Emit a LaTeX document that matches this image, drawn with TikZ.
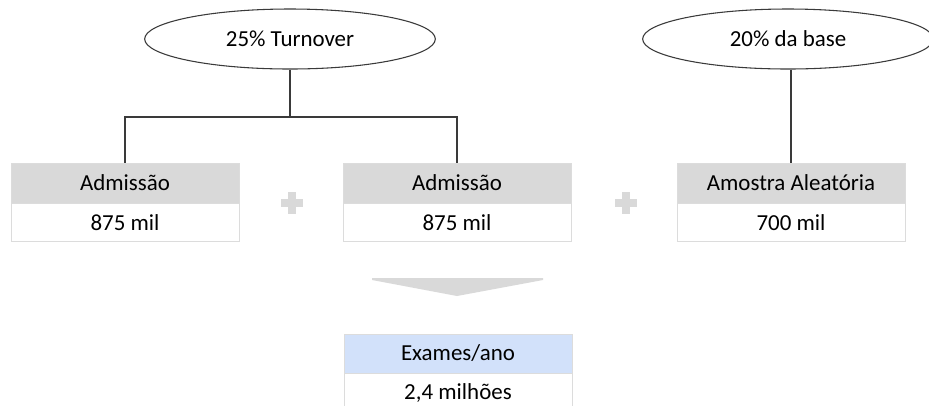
\documentclass[tikz,border=0pt]{standalone}
\usepackage{fontspec}
\setmainfont{Carlito}
\usetikzlibrary{shapes.geometric}
\definecolor{hdrgray}{HTML}{D9D9D9}
\definecolor{hdrblue}{HTML}{D2E1FA}
\definecolor{edge}{HTML}{DCDCDC}
\definecolor{linec}{HTML}{3A3A3A}
\tikzset{
  oval/.style={ellipse, draw=linec, line width=0.8pt, minimum width=218pt, minimum height=45pt, inner sep=0pt, font=\fontsize{17.2}{19}\selectfont},
  hdr/.style={rectangle, draw=edge, line width=0.7pt, fill=hdrgray, minimum width=171pt, minimum height=30pt, inner sep=0pt, font=\fontsize{17.2}{19}\selectfont},
  val/.style={rectangle, draw=edge, line width=0.7pt, fill=white, minimum width=171pt, minimum height=28.5pt, inner sep=0pt, font=\fontsize{17.2}{19}\selectfont},
  conn/.style={draw=linec, line width=0.8pt},
  plusc/.style={fill=hdrgray, draw=none}
}
\begin{document}
\begin{tikzpicture}[x=0.75pt, y=-0.75pt]
\clip (0,0) rectangle (929,405);
\fill[white] (0,0) rectangle (929,405);
% ellipses
\node[oval] (e1) at (290,39) {25\% Turnover};
\node[oval] (e2) at (788,39) {20\% da base};
% boxes
\node[hdr] (h1) at (125,183) {Admissão};
\node[val, anchor=north] (v1) at (h1.south) {875 mil};
\node[hdr] (h2) at (457,183) {Admissão};
\node[val, anchor=north] (v2) at (h2.south) {875 mil};
\node[hdr] (h3) at (791,183) {Amostra Aleatória};
\node[val, anchor=north] (v3) at (h3.south) {700 mil};
\node[hdr, fill=hdrblue, minimum height=29.25pt] (h4) at (458,353.5) {Exames/ano};
\node[val, anchor=north] (v4) at (h4.south) {2,4 milhões};
% connectors
\coordinate (j) at (290,117);
\draw[conn] (e1.south) -- (j);
\draw[conn] (h1.north) |- (j) -| (h2.north);
\draw[conn] (e2.south -| h3.north) -- (h3.north);
% plus signs
\foreach \cx in {292,626}{
  \fill[plusc] (\cx-11,203-4) rectangle (\cx+11,203+4);
  \fill[plusc] (\cx-4.3,203-11) rectangle (\cx+4.3,203+11);
}
% down chevron
\fill[hdrgray] (372,278) -- (543,278) -- (543,280) -- (457,296) -- (372,280) -- cycle;
\end{tikzpicture}
\end{document}
